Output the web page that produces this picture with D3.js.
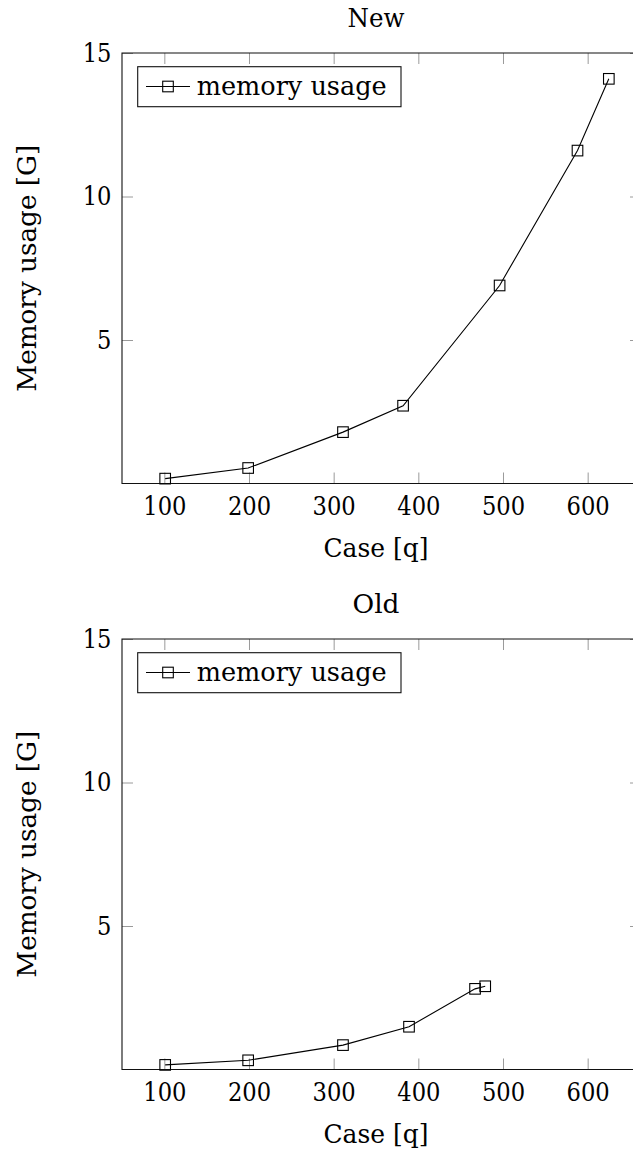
<!DOCTYPE html>
<head>
  <meta charset="utf-8">
  <script src="https://cdn.jsdelivr.net/npm/d3@7"></script>
  <style>
    body { margin: 0; background: #fff; overflow: hidden; }
    svg { display: block; }
  </style>
</head>
<body>
<script>
  // values
  let xTicks = [100, 200, 300, 400, 500, 600];
  let yTicks = [5, 10, 15];

  let newCase = [101, 199, 311, 382, 496, 588, 625];
  let newMem = [0.17, 0.54, 1.79, 2.71, 6.9, 11.6, 14.1];

  let oldCase = [101, 199, 311, 389, 467, 479];
  let oldMem = [0.16, 0.32, 0.85, 1.49, 2.81, 2.9];

  let svg_width = 633;
  let svg_height = 1156;

  let plot = { left: 122, right: 641, height: 430.5 };
  let fontFamily = "DejaVu Serif";
  let fontSize = 26;
  let digitWidth = 14.4;
  let tickLen = 11;

  let svg = d3.select("body").append("svg")
          .attr("width", svg_width)
          .attr("height", svg_height);

  let draw_plot = function (top, title, titleWidth, cases, mem) {

    let xScale = d3.scaleLinear()
            .domain([50, 663])
            .range([plot.left, plot.right]);

    let yScale = d3.scaleLinear()
            .domain([0, 15])
            .range([top + plot.height, top]);

    let g = svg.append("g");

    let style_axis = function (sel) {
      sel.select(".domain").remove();
      sel.selectAll(".tick line").attr("stroke", "#9a9a9a").attr("stroke-width", 1);
      sel.selectAll(".tick text")
              .attr("font-family", fontFamily)
              .attr("font-size", fontSize)
              .attr("fill", "#000")
              .each(function () {
                let t = d3.select(this);
                if (t.text().length > 0) {
                  t.attr("textLength", t.text().length * digitWidth)
                   .attr("lengthAdjust", "spacingAndGlyphs");
                }
              });
    };

    g.append("g")
            .attr("transform", "translate(0," + (top + plot.height) + ")")
            .call(d3.axisBottom(xScale).tickValues(xTicks).tickSize(-tickLen).tickPadding(13).tickFormat(d3.format("d")))
            .call(style_axis);

    g.append("g")
            .attr("transform", "translate(0," + top + ")")
            .call(d3.axisTop(xScale).tickValues(xTicks).tickSize(-tickLen).tickFormat(""))
            .call(style_axis);

    g.append("g")
            .attr("transform", "translate(" + plot.left + ",0)")
            .call(d3.axisLeft(yScale).tickValues(yTicks).tickSize(-tickLen).tickPadding(10.5).tickFormat(d3.format("d")))
            .call(style_axis);

    g.append("g")
            .attr("transform", "translate(" + plot.right + ",0)")
            .call(d3.axisRight(yScale).tickValues(yTicks).tickSize(-tickLen).tickFormat(""))
            .call(style_axis);

    // frame (right side lies outside the picture)
    g.append("path")
            .attr("d", "M" + svg_width + "," + top + "H" + plot.left + "V" + (top + plot.height) + "H" + svg_width)
            .attr("fill", "none")
            .attr("stroke", "#111")
            .attr("stroke-width", 1.1);

    let pts = cases.map(function (c, i) { return [c, mem[i]]; });

    g.append("path")
            .datum(pts)
            .attr("fill", "none")
            .attr("stroke", "#000")
            .attr("stroke-width", 1.1)
            .attr("d", d3.line()
                    .x(function (d) { return xScale(d[0]); })
                    .y(function (d) { return yScale(d[1]); }));

    g.selectAll(null)
            .data(pts)
            .enter()
            .append("rect")
            .attr("x", function (d) { return xScale(d[0]) - 5.3; })
            .attr("y", function (d) { return yScale(d[1]) - 5.3; })
            .attr("width", 10.6)
            .attr("height", 10.6)
            .attr("fill", "none")
            .attr("stroke", "#000")
            .attr("stroke-width", 1.1);

    // legend
    g.append("rect")
            .attr("x", 137.7)
            .attr("y", top + 13.7)
            .attr("width", 263.3)
            .attr("height", 40)
            .attr("fill", "#fff")
            .attr("stroke", "#111")
            .attr("stroke-width", 1.1);

    g.append("line")
            .attr("x1", 146).attr("x2", 190)
            .attr("y1", top + 33.5).attr("y2", top + 33.5)
            .attr("stroke", "#000")
            .attr("stroke-width", 1.1);

    g.append("rect")
            .attr("x", 168 - 5.3)
            .attr("y", top + 33.5 - 5.3)
            .attr("width", 10.6)
            .attr("height", 10.6)
            .attr("fill", "none")
            .attr("stroke", "#000")
            .attr("stroke-width", 1.1);

    g.append("text")
            .attr("x", 196.7)
            .attr("y", top + 42)
            .attr("textLength", 190)
            .attr("lengthAdjust", "spacingAndGlyphs")
            .attr("font-family", fontFamily)
            .attr("font-size", fontSize)
            .text("memory usage");

    // titles
    g.append("text")
            .attr("x", 376)
            .attr("y", top - 26)
            .attr("text-anchor", "middle")
            .attr("textLength", titleWidth)
            .attr("lengthAdjust", "spacingAndGlyphs")
            .attr("font-family", fontFamily)
            .attr("font-size", fontSize)
            .text(title);

    g.append("text")
            .attr("x", 376)
            .attr("y", top + 504)
            .attr("text-anchor", "middle")
            .attr("textLength", 105)
            .attr("lengthAdjust", "spacingAndGlyphs")
            .attr("font-family", fontFamily)
            .attr("font-size", fontSize)
            .text("Case [q]");

    g.append("text")
            .attr("transform", "translate(36," + (top + plot.height / 2) + ") rotate(-90)")
            .attr("text-anchor", "middle")
            .attr("textLength", 247)
            .attr("lengthAdjust", "spacingAndGlyphs")
            .attr("font-family", fontFamily)
            .attr("font-size", fontSize)
            .text("Memory usage [G]");

  };

  draw_plot(53, "New", 57, newCase, newMem);
  draw_plot(639, "Old", 47, oldCase, oldMem);

</script>
</body>
